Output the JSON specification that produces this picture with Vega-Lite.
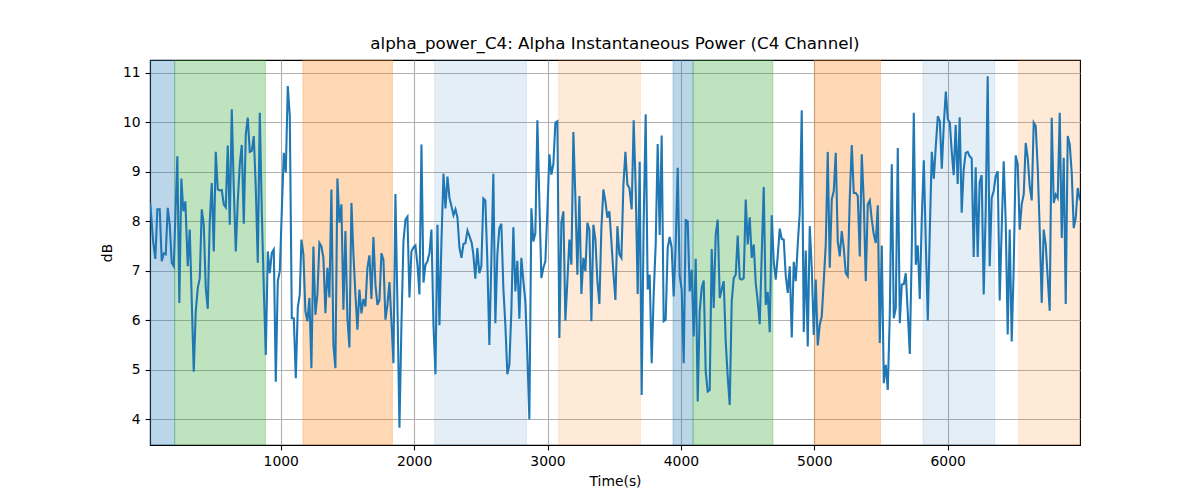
{
  "$schema": "https://vega.github.io/schema/vega-lite/v6.json",
  "width": 930,
  "height": 385,
  "autosize": {"type": "none"},
  "padding": {"left": 150, "top": 60, "right": 120, "bottom": 55},
  "background": "white",
  "title": {"text": "alpha_power_C4: Alpha Instantaneous Power (C4 Channel)", "font": "DejaVu Sans", "fontSize": 16.7, "fontWeight": "normal", "color": "black", "offset": 7},
  "config": {
    "view": {"stroke": "black", "strokeWidth": 1.1},
    "axis": {
      "labelFont": "DejaVu Sans", "labelFontSize": 13.9, "labelColor": "black",
      "titleFont": "DejaVu Sans", "titleFontSize": 13.9, "titleFontWeight": "normal", "titleColor": "black",
      "tickColor": "black", "tickSize": 4.9, "tickWidth": 1.1,
      "domainColor": "black", "domainWidth": 1.1,
      "gridColor": "#b0b0b0", "gridWidth": 1.1, "gridOpacity": 1,
      "labelPadding": 4.9
    }
  },
  "datasets": {
    "bands": [
      {"s": 20, "e": 205, "k": "blue"},
      {"s": 205, "e": 885, "k": "green"},
      {"s": 1167, "e": 1837, "k": "orange"},
      {"s": 2154, "e": 2842, "k": "lblue"},
      {"s": 3084, "e": 3696, "k": "lorange"},
      {"s": 3941, "e": 4091, "k": "blue"},
      {"s": 4091, "e": 4690, "k": "green"},
      {"s": 5003, "e": 5496, "k": "orange"},
      {"s": 5815, "e": 6352, "k": "lblue"},
      {"s": 6532, "e": 6995, "k": "lorange"}
    ],
    "series": [
      {"t":22,"v":8.37},{"t":43,"v":7.6},{"t":60,"v":7.24},{"t":75,"v":8.24},{"t":93,"v":8.24},{"t":108,"v":7.19},{"t":123,"v":7.35},{"t":138,"v":7.33},{"t":153,"v":8.27},{"t":168,"v":7.93},{"t":183,"v":7.16},{"t":198,"v":7.09},{"t":225,"v":9.31},{"t":240,"v":6.35},{"t":255,"v":8.86},{"t":270,"v":8.2},{"t":285,"v":8.4},{"t":303,"v":7.09},{"t":318,"v":7.83},{"t":348,"v":4.96},{"t":363,"v":6.18},{"t":378,"v":6.65},{"t":393,"v":6.85},{"t":408,"v":8.24},{"t":423,"v":7.93},{"t":438,"v":6.65},{"t":453,"v":6.23},{"t":468,"v":8.0},{"t":483,"v":8.77},{"t":498,"v":7.39},{"t":513,"v":9.4},{"t":528,"v":8.64},{"t":543,"v":8.62},{"t":558,"v":8.63},{"t":573,"v":8.34},{"t":588,"v":8.28},{"t":603,"v":9.53},{"t":618,"v":7.93},{"t":633,"v":10.26},{"t":648,"v":8.67},{"t":663,"v":7.39},{"t":678,"v":8.4},{"t":693,"v":9.15},{"t":708,"v":9.54},{"t":723,"v":7.95},{"t":738,"v":9.75},{"t":753,"v":10.09},{"t":768,"v":9.4},{"t":783,"v":9.42},{"t":798,"v":9.72},{"t":813,"v":8.67},{"t":828,"v":7.16},{"t":843,"v":10.19},{"t":858,"v":8.2},{"t":873,"v":6.65},{"t":888,"v":5.3},{"t":903,"v":7.39},{"t":918,"v":6.95},{"t":933,"v":7.36},{"t":948,"v":7.43},{"t":963,"v":4.76},{"t":978,"v":6.79},{"t":993,"v":6.99},{"t":1008,"v":8.2},{"t":1023,"v":9.38},{"t":1038,"v":8.98},{"t":1053,"v":10.73},{"t":1068,"v":10.12},{"t":1083,"v":6.04},{"t":1098,"v":6.04},{"t":1113,"v":4.83},{"t":1128,"v":6.25},
      {"t":1143,"v":6.52},{"t":1155,"v":7.63},{"t":1170,"v":7.33},{"t":1185,"v":6.18},{"t":1200,"v":5.98},{"t":1215,"v":6.45},{"t":1230,"v":5.03},{"t":1245,"v":7.49},{"t":1260,"v":6.11},{"t":1275,"v":6.52},{"t":1290,"v":7.56},{"t":1305,"v":7.49},{"t":1320,"v":7.26},{"t":1335,"v":6.14},{"t":1350,"v":7.06},{"t":1365,"v":6.46},{"t":1380,"v":8.64},{"t":1395,"v":5.5},{"t":1410,"v":5.03},{"t":1425,"v":8.86},{"t":1440,"v":7.97},{"t":1455,"v":8.34},{"t":1470,"v":6.21},{"t":1485,"v":7.8},{"t":1500,"v":6.04},{"t":1515,"v":5.45},{"t":1530,"v":8.37},{"t":1545,"v":7.33},{"t":1560,"v":6.52},{"t":1575,"v":5.81},{"t":1590,"v":6.62},{"t":1605,"v":6.14},{"t":1620,"v":6.43},{"t":1635,"v":6.28},{"t":1650,"v":7.06},{"t":1665,"v":7.31},{"t":1680,"v":6.43},{"t":1695,"v":7.68},{"t":1710,"v":6.72},{"t":1725,"v":6.31},{"t":1740,"v":6.41},{"t":1755,"v":7.35},{"t":1770,"v":7.22},{"t":1785,"v":6.01},{"t":1800,"v":6.31},{"t":1815,"v":6.77},{"t":1830,"v":5.98},{"t":1845,"v":5.13},{"t":1860,"v":8.55},{"t":1875,"v":6.31},{"t":1890,"v":3.83},{"t":1905,"v":5.91},{"t":1920,"v":7.59},{"t":1935,"v":8.03},{"t":1950,"v":8.09},{"t":1965,"v":6.46},{"t":1980,"v":7.39},{"t":1995,"v":7.47},{"t":2010,"v":7.51},{"t":2025,"v":7.12},{"t":2040,"v":6.52},{"t":2055,"v":9.55},{"t":2070,"v":6.76},{"t":2085,"v":7.12},{"t":2100,"v":7.19},{"t":2115,"v":7.36},{"t":2130,"v":7.83},{"t":2145,"v":5.91},{"t":2160,"v":4.91},{"t":2175,"v":7.93},{"t":2190,"v":5.9},{"t":2205,"v":7.59},{"t":2220,"v":8.96},{"t":2235,"v":8.26},{"t":2250,"v":8.9},{"t":2265,"v":8.47},{"t":2280,"v":8.3},{"t":2295,"v":8.12},{"t":2310,"v":8.24},{"t":2325,"v":8.07},{"t":2340,"v":7.46},{"t":2355,"v":7.26},{"t":2370,"v":7.54},{"t":2385,"v":7.56},{"t":2400,"v":7.81},{"t":2415,"v":7.7},
      {"t":2432,"v":7.56},{"t":2444,"v":7.33},{"t":2459,"v":6.84},{"t":2474,"v":7.46},{"t":2489,"v":6.95},{"t":2504,"v":7.09},{"t":2519,"v":8.46},{"t":2534,"v":8.42},{"t":2549,"v":7.19},{"t":2564,"v":5.5},{"t":2579,"v":7.19},{"t":2594,"v":8.96},{"t":2609,"v":5.94},{"t":2624,"v":7.33},{"t":2639,"v":7.86},{"t":2654,"v":7.95},{"t":2669,"v":6.65},{"t":2684,"v":5.91},{"t":2699,"v":4.91},{"t":2714,"v":5.1},{"t":2729,"v":6.18},{"t":2744,"v":7.88},{"t":2759,"v":6.58},{"t":2774,"v":7.2},{"t":2789,"v":6.03},{"t":2804,"v":7.26},{"t":2819,"v":6.79},{"t":2834,"v":6.38},{"t":2849,"v":5.3},{"t":2864,"v":4.0},{"t":2879,"v":8.26},{"t":2894,"v":7.59},{"t":2909,"v":7.76},{"t":2924,"v":10.04},{"t":2939,"v":8.4},{"t":2954,"v":6.85},{"t":2969,"v":7.06},{"t":2984,"v":7.19},{"t":2999,"v":8.2},{"t":3014,"v":9.35},{"t":3029,"v":8.94},{"t":3044,"v":9.15},{"t":3059,"v":9.99},{"t":3074,"v":10.02},{"t":3089,"v":5.64},{"t":3104,"v":7.97},{"t":3119,"v":8.2},{"t":3134,"v":5.99},{"t":3149,"v":6.79},{"t":3164,"v":7.63},{"t":3179,"v":7.12},{"t":3194,"v":9.8},{"t":3209,"v":8.47},{"t":3224,"v":6.92},{"t":3239,"v":8.51},{"t":3254,"v":6.53},{"t":3269,"v":7.26},{"t":3284,"v":6.99},{"t":3299,"v":7.97},{"t":3314,"v":7.83},{"t":3329,"v":5.98},{"t":3344,"v":7.93},{"t":3359,"v":7.63},{"t":3374,"v":6.79},{"t":3389,"v":6.33},{"t":3404,"v":7.86},{"t":3419,"v":8.64},{"t":3434,"v":8.4},{"t":3449,"v":8.07},{"t":3464,"v":8.2},{"t":3479,"v":7.59},{"t":3494,"v":6.95},{"t":3509,"v":6.41},{"t":3524,"v":7.9},{"t":3539,"v":7.33},{"t":3554,"v":7.26},{"t":3569,"v":8.73},{"t":3584,"v":9.4},{"t":3599,"v":8.74},{"t":3614,"v":8.67},
      {"t":3631,"v":8.24},{"t":3646,"v":10.04},{"t":3661,"v":8.67},{"t":3676,"v":6.53},{"t":3691,"v":9.2},{"t":3706,"v":4.49},{"t":3721,"v":8.0},{"t":3736,"v":10.16},{"t":3751,"v":6.62},{"t":3766,"v":6.92},{"t":3781,"v":5.13},{"t":3796,"v":6.52},{"t":3811,"v":7.53},{"t":3826,"v":9.56},{"t":3841,"v":7.72},{"t":3856,"v":9.73},{"t":3871,"v":5.98},{"t":3886,"v":6.01},{"t":3901,"v":7.46},{"t":3916,"v":7.68},{"t":3931,"v":7.46},{"t":3946,"v":6.48},{"t":3961,"v":7.53},{"t":3976,"v":9.08},{"t":3991,"v":6.89},{"t":4006,"v":6.62},{"t":4021,"v":5.13},{"t":4036,"v":8.02},{"t":4051,"v":8.0},{"t":4066,"v":6.58},{"t":4081,"v":7.02},{"t":4096,"v":5.67},{"t":4111,"v":7.24},{"t":4126,"v":4.36},{"t":4141,"v":6.18},{"t":4156,"v":6.65},{"t":4171,"v":6.8},{"t":4186,"v":4.96},{"t":4201,"v":4.56},{"t":4216,"v":4.59},{"t":4231,"v":7.44},{"t":4246,"v":6.25},{"t":4261,"v":7.73},{"t":4276,"v":8.03},{"t":4291,"v":6.45},{"t":4306,"v":6.62},{"t":4321,"v":6.79},{"t":4336,"v":5.57},{"t":4351,"v":4.86},{"t":4366,"v":4.29},{"t":4381,"v":6.38},{"t":4396,"v":6.85},{"t":4411,"v":6.92},{"t":4426,"v":7.71},{"t":4441,"v":6.84},{"t":4456,"v":6.82},{"t":4471,"v":6.85},{"t":4486,"v":8.44},{"t":4501,"v":7.53},{"t":4516,"v":8.08},{"t":4531,"v":7.26},{"t":4546,"v":7.53},{"t":4561,"v":6.75},{"t":4576,"v":6.38},{"t":4591,"v":5.92},{"t":4606,"v":7.33},{"t":4621,"v":8.69},{"t":4636,"v":6.31},{"t":4651,"v":6.57},{"t":4666,"v":5.76},{"t":4681,"v":8.12},{"t":4696,"v":7.19},{"t":4711,"v":6.82},{"t":4726,"v":7.3},{"t":4741,"v":7.85},{"t":4756,"v":7.64},{"t":4771,"v":7.63},
      {"t":4786,"v":6.9},{"t":4801,"v":6.55},{"t":4816,"v":7.09},{"t":4831,"v":5.65},{"t":4846,"v":7.18},{"t":4861,"v":6.79},{"t":4876,"v":7.53},{"t":4891,"v":8.17},{"t":4906,"v":10.24},{"t":4921,"v":5.76},{"t":4936,"v":7.41},{"t":4951,"v":5.47},{"t":4966,"v":7.9},{"t":4981,"v":7.06},{"t":4996,"v":5.7},{"t":5011,"v":6.82},{"t":5026,"v":5.49},{"t":5041,"v":5.91},{"t":5056,"v":6.08},{"t":5071,"v":6.79},{"t":5086,"v":7.53},{"t":5101,"v":9.4},{"t":5116,"v":7.06},{"t":5131,"v":8.44},{"t":5146,"v":8.61},{"t":5161,"v":9.38},{"t":5176,"v":7.59},{"t":5191,"v":7.29},{"t":5206,"v":7.8},{"t":5221,"v":7.46},{"t":5236,"v":6.95},{"t":5251,"v":6.89},{"t":5266,"v":8.47},{"t":5281,"v":9.54},{"t":5296,"v":8.57},{"t":5311,"v":8.57},{"t":5326,"v":8.51},{"t":5341,"v":7.29},{"t":5356,"v":9.35},{"t":5371,"v":8.4},{"t":5386,"v":6.79},{"t":5401,"v":8.34},{"t":5416,"v":8.42},{"t":5431,"v":8.03},{"t":5446,"v":7.73},{"t":5461,"v":7.56},{"t":5476,"v":8.32},{"t":5491,"v":5.54},{"t":5506,"v":7.51},{"t":5521,"v":4.73},{"t":5536,"v":5.1},{"t":5551,"v":4.59},{"t":5566,"v":6.11},{"t":5581,"v":9.15},{"t":5596,"v":6.04},{"t":5611,"v":6.25},{"t":5626,"v":9.48},{"t":5641,"v":5.94},{"t":5656,"v":6.72},{"t":5671,"v":6.73},{"t":5686,"v":6.95},{"t":5701,"v":6.14},{"t":5716,"v":5.32},{"t":5731,"v":7.46},{"t":5746,"v":10.19},{"t":5761,"v":7.12},{"t":5776,"v":7.51},{"t":5791,"v":6.43},{"t":5806,"v":8.07},{"t":5821,"v":9.23},{"t":5836,"v":7.56},{"t":5851,"v":5.99},{"t":5866,"v":7.8},{"t":5881,"v":9.4},{"t":5896,"v":8.86},{"t":5911,"v":9.52},{"t":5926,"v":10.12},{"t":5941,"v":10.02},{"t":5956,"v":9.06},{"t":5971,"v":9.95},{"t":5986,"v":10.62},{"t":6001,"v":10.06},{"t":6016,"v":9.99},
      {"t":6030,"v":9.42},{"t":6045,"v":8.93},{"t":6060,"v":9.94},{"t":6075,"v":8.75},{"t":6090,"v":10.1},{"t":6105,"v":8.17},{"t":6120,"v":9.04},{"t":6135,"v":9.38},{"t":6150,"v":9.4},{"t":6165,"v":9.31},{"t":6180,"v":9.27},{"t":6195,"v":7.28},{"t":6210,"v":9.09},{"t":6225,"v":7.28},{"t":6240,"v":8.79},{"t":6255,"v":8.93},{"t":6270,"v":6.52},{"t":6285,"v":8.2},{"t":6300,"v":10.93},{"t":6315,"v":7.09},{"t":6330,"v":8.47},{"t":6345,"v":8.61},{"t":6360,"v":8.91},{"t":6375,"v":9.01},{"t":6390,"v":6.4},{"t":6405,"v":7.86},{"t":6420,"v":9.21},{"t":6435,"v":8.0},{"t":6450,"v":5.71},{"t":6465,"v":7.83},{"t":6480,"v":5.57},{"t":6495,"v":7.06},{"t":6510,"v":9.33},{"t":6525,"v":9.15},{"t":6540,"v":7.83},{"t":6555,"v":8.34},{"t":6570,"v":8.54},{"t":6585,"v":9.58},{"t":6600,"v":9.28},{"t":6615,"v":8.71},{"t":6630,"v":8.42},{"t":6645,"v":9.99},{"t":6660,"v":9.92},{"t":6675,"v":9.08},{"t":6690,"v":7.83},{"t":6705,"v":6.35},{"t":6720,"v":7.83},{"t":6735,"v":7.53},{"t":6750,"v":6.85},{"t":6765,"v":6.19},{"t":6780,"v":10.09},{"t":6795,"v":8.37},{"t":6810,"v":8.54},{"t":6825,"v":8.47},{"t":6840,"v":10.19},{"t":6855,"v":7.66},{"t":6870,"v":9.28},{"t":6885,"v":6.33},{"t":6900,"v":9.72},{"t":6915,"v":9.55},{"t":6930,"v":8.98},{"t":6945,"v":7.86},{"t":6960,"v":8.07},{"t":6975,"v":8.67},{"t":6992,"v":8.42}
    ]
  },
  "layer": [
    {
      "data": {"name": "bands"},
      "mark": {"type": "rect", "strokeWidth": 1, "clip": true},
      "encoding": {
        "x": {"field": "s", "type": "quantitative", "scale": {"domain": [20, 6992], "nice": false, "zero": false},
              "axis": {"values": [1000, 2000, 3000, 4000, 5000, 6000], "format": "d", "title": "Time(s)", "grid": true, "titlePadding": 6}},
        "x2": {"field": "e"},
        "y": {"value": 0},
        "y2": {"value": 385},
        "fill": {"field": "k", "type": "nominal", "legend": null,
                 "scale": {"domain": ["blue", "green", "orange", "lblue", "lorange"],
                           "range": ["rgba(31,119,180,0.3)", "rgba(44,160,44,0.3)", "rgba(255,127,14,0.3)", "rgba(31,119,180,0.12)", "rgba(255,127,14,0.16)"]}},
        "stroke": {"field": "k", "type": "nominal", "legend": null,
                 "scale": {"domain": ["blue", "green", "orange", "lblue", "lorange"],
                           "range": ["rgba(31,119,180,0.3)", "rgba(44,160,44,0.3)", "rgba(255,127,14,0.3)", "rgba(31,119,180,0.12)", "rgba(255,127,14,0.16)"]}}
      }
    },
    {
      "data": {"name": "series"},
      "mark": {"type": "line", "color": "#1f77b4", "strokeWidth": 2.08, "clip": true},
      "encoding": {
        "x": {"field": "t", "type": "quantitative"},
        "y": {"field": "v", "type": "quantitative", "scale": {"domain": [3.48, 11.256], "nice": false, "zero": false},
              "axis": {"values": [4, 5, 6, 7, 8, 9, 10, 11], "format": "d", "title": "dB", "grid": true, "titlePadding": 8}}
      }
    }
  ]
}
